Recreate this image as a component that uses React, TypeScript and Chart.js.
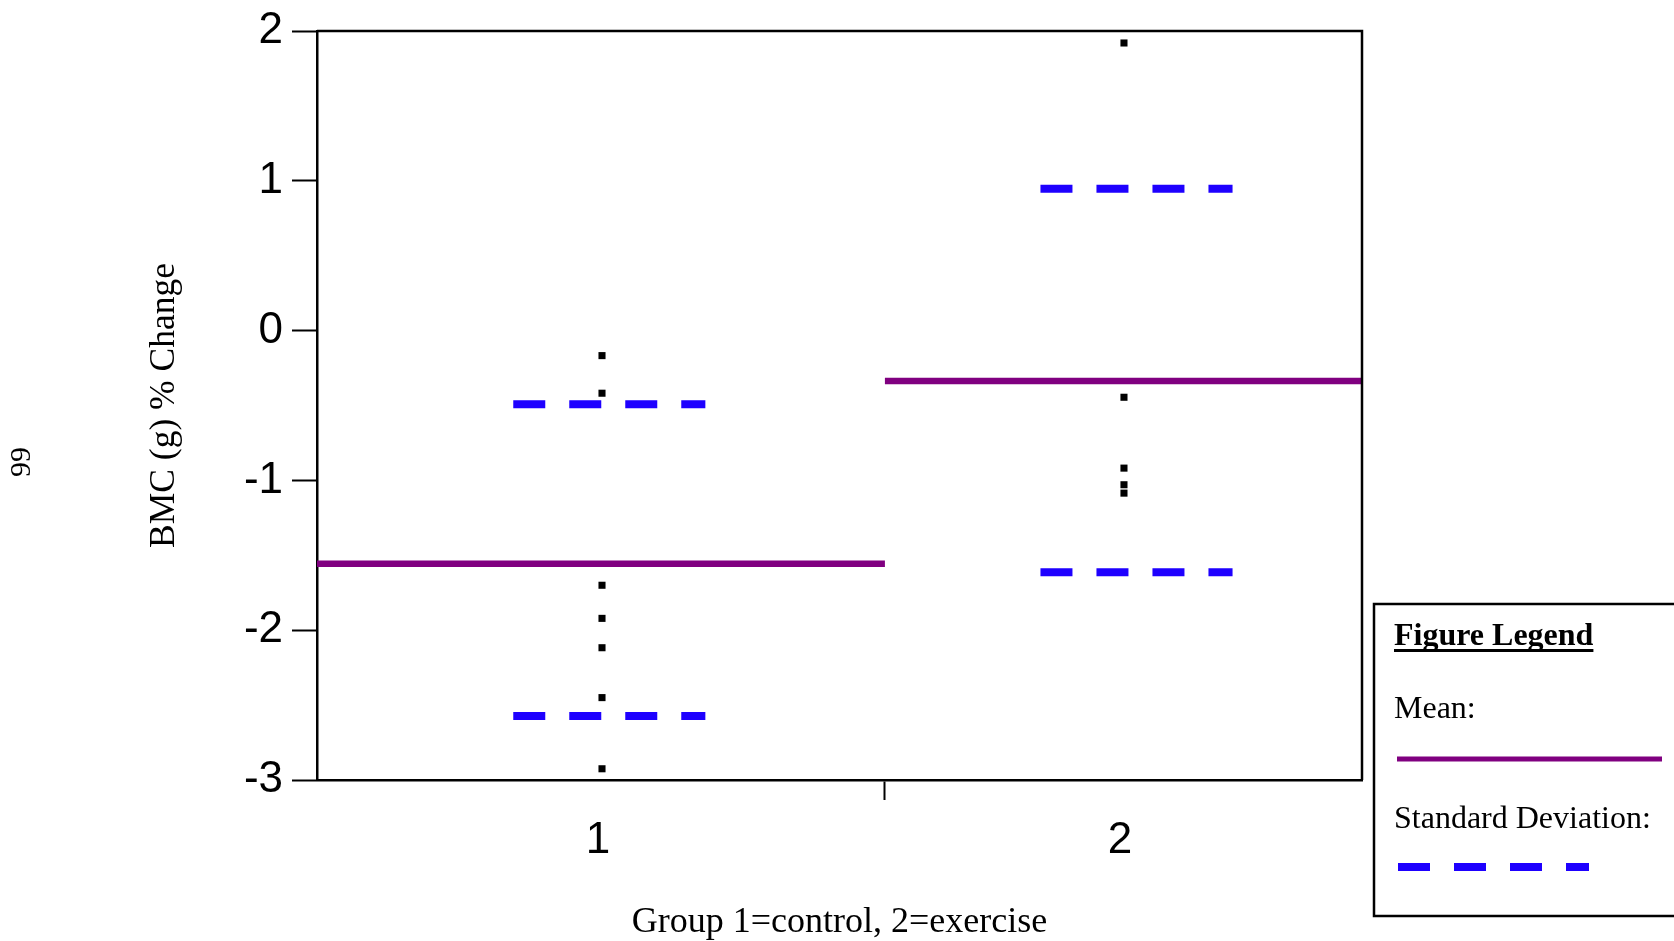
import React, { useEffect, useRef } from 'react';
import { Chart, registerables } from 'chart.js';

Chart.register(...registerables);

// ---- data ----
const groups = [1, 2];
const groupLabels = ['1', '2'];
const group1Points = [-0.167, -0.418, -1.7, -1.921, -2.117, -2.45, -2.925];
const group2Points = [1.92, -0.445, -0.918, -1.029, -1.085];
const means = [-1.557, -0.336];
const sdUpper = [-0.492, 0.947];
const sdLower = [-2.572, -1.613];

// axis extents (x is a numeric group axis)
const X_MIN = 0.454;
const X_MAX = 2.456;
const X_DIV = 1.542;
const Y_MIN = -3;
const Y_MAX = 2;
// how far the SD dashes reach left / right of each group position
const SD_LEFT = [0.17, 0.16];
const SD_RIGHT = [0.198, 0.208];

const MEAN_COLOR = '#800080';
const SD_COLOR = '#1e00ff';
const SERIF = "'Liberation Serif', 'Times New Roman', serif";
const SANS = "'Liberation Sans', Arial, sans-serif";

const framePlugin = {
  id: 'frameAndLegend',
  afterDraw(chart: any) {
    const ctx = chart.ctx;
    const { left, top, right, bottom } = chart.chartArea;
    ctx.save();
    // top and right frame lines
    ctx.strokeStyle = '#000';
    ctx.lineWidth = 2.5;
    ctx.beginPath();
    ctx.moveTo(left, top);
    ctx.lineTo(right, top);
    ctx.lineTo(right, bottom);
    ctx.stroke();

    // page number
    ctx.save();
    ctx.translate(22, 462);
    ctx.rotate(-Math.PI / 2);
    ctx.fillStyle = '#000';
    ctx.font = `30px ${SERIF}`;
    ctx.textAlign = 'center';
    ctx.textBaseline = 'middle';
    ctx.fillText('99', 0, 0);
    ctx.restore();

    // legend box
    ctx.lineWidth = 2.5;
    ctx.strokeStyle = '#000';
    ctx.beginPath();
    ctx.moveTo(1700, 604);
    ctx.lineTo(1374, 604);
    ctx.lineTo(1374, 916);
    ctx.lineTo(1700, 916);
    ctx.stroke();

    ctx.fillStyle = '#000';
    ctx.textAlign = 'left';
    ctx.textBaseline = 'alphabetic';
    ctx.font = `bold 32px ${SERIF}`;
    const title = 'Figure Legend';
    ctx.fillText(title, 1394, 645);
    const tw = ctx.measureText(title).width;
    ctx.fillRect(1394, 649, tw, 3);

    ctx.font = `32px ${SERIF}`;
    ctx.fillText('Mean:', 1394, 718);
    ctx.fillText('Standard Deviation:', 1394, 828);

    ctx.strokeStyle = MEAN_COLOR;
    ctx.lineWidth = 5;
    ctx.lineCap = 'butt';
    ctx.beginPath();
    ctx.moveTo(1397, 759);
    ctx.lineTo(1662, 759);
    ctx.stroke();

    ctx.strokeStyle = SD_COLOR;
    ctx.lineWidth = 8;
    ctx.setLineDash([32, 24]);
    ctx.beginPath();
    ctx.moveTo(1398, 867);
    ctx.lineTo(1589, 867);
    ctx.stroke();
    ctx.setLineDash([]);
    ctx.restore();
  },
};

export default function App() {
  const ref = useRef<HTMLCanvasElement>(null);

  useEffect(() => {
    const canvas = ref.current;
    if (!canvas) return;

    const seg = (x0: number, x1: number, y: number) => [
      { x: x0, y },
      { x: x1, y },
    ];
    const lineDs = (data: any[], color: string, width: number, dash: number[]) => ({
      data,
      showLine: true,
      borderColor: color,
      backgroundColor: color,
      borderWidth: width,
      borderDash: dash,
      borderCapStyle: 'butt',
      pointRadius: 0,
      pointHoverRadius: 0,
      fill: false,
    });

    const meanSpans = [
      [X_MIN, X_DIV],
      [X_DIV, X_MAX],
    ];

    const datasets: any[] = [
      ...means.map((m, i) => lineDs(seg(meanSpans[i][0], meanSpans[i][1], m), MEAN_COLOR, 6.5, [])),
      ...sdUpper.map((v, i) => lineDs(seg(groups[i] - SD_LEFT[i], groups[i] + SD_RIGHT[i], v), SD_COLOR, 8, [32, 24])),
      ...sdLower.map((v, i) => lineDs(seg(groups[i] - SD_LEFT[i], groups[i] + SD_RIGHT[i], v), SD_COLOR, 8, [32, 24])),
      ...[group1Points, group2Points].map((vals, i) => ({
        data: vals.map((v) => ({ x: groups[i], y: v })),
        showLine: false,
        pointStyle: 'rect',
        pointRadius: 5,
        pointHoverRadius: 5,
        pointBackgroundColor: '#000',
        pointBorderWidth: 0,
        backgroundColor: '#000',
        borderColor: '#000',
      })),
    ];

    const chart = new Chart(canvas, {
      type: 'scatter',
      data: { datasets },
      plugins: [framePlugin],
      options: {
        responsive: false,
        animation: false,
        events: [],
        layout: { padding: { top: 30, right: 312, bottom: 0, left: 0 } },
        plugins: {
          legend: { display: false },
          tooltip: { enabled: false },
          title: { display: false },
        },
        scales: {
          x: {
            type: 'linear',
            min: X_MIN,
            max: X_MAX,
            afterBuildTicks: (s: any) => {
              s.ticks = [...groups, X_DIV].sort((a, b) => a - b).map((v) => ({ value: v }));
            },
            afterFit: (s: any) => {
              s.height = 161;
            },
            grid: {
              drawOnChartArea: false,
              drawTicks: true,
              tickLength: 20,
              tickWidth: 2,
              tickColor: (c: any) => (c.tick && c.tick.value === X_DIV ? '#000' : 'rgba(0,0,0,0)'),
            },
            border: { display: true, color: '#000', width: 2.5 },
            ticks: {
              autoSkip: false,
              maxRotation: 0,
              padding: 14,
              labelOffset: -4,
              color: '#000',
              font: { family: SANS, size: 44, lineHeight: 1.2 },
              callback: (v: any) => {
                const i = groups.indexOf(Number(v));
                return i >= 0 ? groupLabels[i] : '';
              },
            },
            title: {
              display: true,
              text: 'Group 1=control, 2=exercise',
              color: '#000',
              font: { family: SERIF, size: 36, lineHeight: 1 },
              padding: { top: 0, bottom: 0 },
            },
          },
          y: {
            type: 'linear',
            min: Y_MIN,
            max: Y_MAX,
            afterFit: (s: any) => {
              s.width = 317;
            },
            grid: {
              drawOnChartArea: false,
              drawTicks: true,
              tickLength: 25,
              tickWidth: 2,
              tickColor: '#000',
            },
            border: { display: true, color: '#000', width: 2.5 },
            ticks: {
              stepSize: 1,
              padding: 9,
              color: '#000',
              font: { family: SANS, size: 44, lineHeight: 1 },
            },
            title: {
              display: true,
              text: 'BMC (g) % Change',
              color: '#000',
              font: { family: SERIF, size: 35.5, lineHeight: 1 },
              padding: { top: 147, bottom: 0 },
            },
          },
        },
      } as any,
    });

    return () => chart.destroy();
  }, []);

  return (
    <div style={{ position: 'absolute', left: 0, top: 0, width: 1674, height: 941, background: '#fff' }}>
      <canvas ref={ref} width={1674} height={941} style={{ display: 'block', width: 1674, height: 941 }} />
    </div>
  );
}
